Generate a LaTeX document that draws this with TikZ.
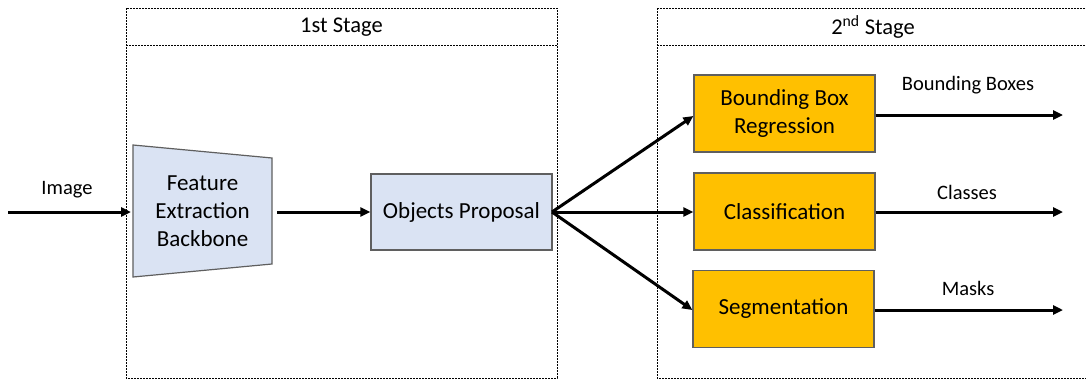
\documentclass[tikz,border=0pt]{standalone}
\usepackage{fontspec}
\setmainfont{Carlito}
\usetikzlibrary{arrows.meta}
\definecolor{boxblue}{HTML}{DAE3F3}
\definecolor{boxorange}{HTML}{FFC000}
\definecolor{edgegray}{HTML}{5F5F5F}
\begin{document}
\begin{tikzpicture}[x=1pt,y=-1pt,
  stageframe/.style={draw=black,line width=0.8pt,dash pattern=on 2pt off 1pt},
  bluebox/.style={draw=edgegray,line width=1.2pt,fill=boxblue,minimum width=181pt,minimum height=76pt,
    align=center,font=\fontsize{23}{28}\selectfont,inner sep=0pt},
  orangebox/.style={draw=edgegray,line width=1.2pt,fill=boxorange,minimum width=181pt,minimum height=77pt,
    align=center,font=\fontsize{23}{28}\selectfont,inner sep=0pt},
  lbl/.style={font=\fontsize{20.5}{24}\selectfont,inner sep=0pt},
  stagelbl/.style={font=\fontsize{22.5}{26}\selectfont,inner sep=0pt},
  flow/.style={line width=3pt,-{Triangle[length=10pt,width=9pt]}}]
\useasboundingbox (0,0) rectangle (1086,380);
\clip (0,0) rectangle (1086,380);
\fill[white] (0,0) rectangle (1086,380);

% stage frames with header bands
\draw[stageframe] (126,8) rectangle (557,378);
\draw[stageframe] (126,45) -- (557,45);
\node[stagelbl] (s1) at (341.5,27) {1st Stage};
\draw[stageframe] (657,8) rectangle (1092,378);
\draw[stageframe] (657,45) -- (1092,45);
\node[stagelbl] (s2) at (873,27) {2\textsuperscript{nd} Stage};

% feature extraction backbone (trapezoid)
\draw[draw=edgegray,line width=1.2pt,fill=boxblue] (133,145) -- (272,158) -- (272,264) -- (133,277) -- cycle;
\node[align=center,font=\fontsize{23}{28}\selectfont] (fe) at (202.5,211) {Feature\\Extraction\\Backbone};
\coordinate (feL) at (131,212);
\coordinate (feR) at (277,212);

% objects proposal
\node[bluebox] (op) at (461.5,212) {Objects Proposal};
\coordinate (fork) at (552,212);

% second stage heads
\node[orangebox] (bb) at (784.5,113.5) {Bounding Box\\Regression};
\node[orangebox] (cl) at (784.5,211.5) {Classification};
\node[orangebox] (sg) at (783.5,309) {Segmentation};

% inputs and outputs
\coordinate (in) at (8,212);
\node[lbl] (imgl) at (67,190) {Image};
\coordinate (o1) at (1063,115);
\coordinate (o2) at (1063,212);
\coordinate (o3) at (1063,310);
\node[lbl] (l1) at (968,85) {Bounding Boxes};
\node[lbl] (l2) at (967,192) {Classes};
\node[lbl] (l3) at (968,288) {Masks};

% connectors
\draw[flow] (in) -- (feL);
\draw[flow] (feR) -- (op.west);
\draw[flow] (fork) -- (bb.west |- 0,116);
\draw[flow] (fork) -- (cl.west |- fork);
\draw[flow] (fork) -- (sg.west |- 0,310);
\draw[flow] (bb.east |- o1) -- (o1);
\draw[flow] (cl.east |- o2) -- (o2);
\draw[flow] (sg.east |- o3) -- (o3);
\end{tikzpicture}
\end{document}
